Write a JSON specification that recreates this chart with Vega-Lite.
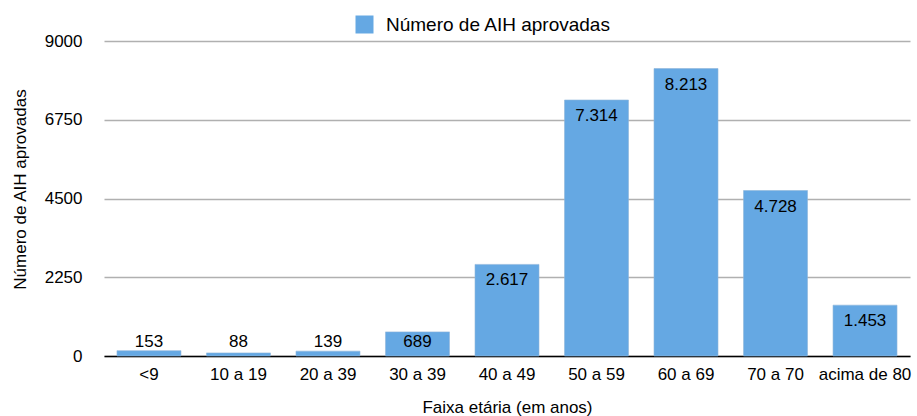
{
  "$schema": "https://vega.github.io/schema/vega-lite/v6.json",
  "autosize": "none",
  "width": 806,
  "height": 315,
  "padding": {"left": 104, "top": 41, "right": 7, "bottom": 60},
  "background": "white",
  "config": {
    "font": "Liberation Sans",
    "view": {"stroke": null},
    "locale": {"number": {"decimal": ",", "thousands": ".", "grouping": [3], "currency": ["R$", ""]}}
  },
  "data": {
    "values": [
      {"faixa": "<9", "valor": 153},
      {"faixa": "10 a 19", "valor": 88},
      {"faixa": "20 a 39", "valor": 139},
      {"faixa": "30 a 39", "valor": 689},
      {"faixa": "40 a 49", "valor": 2617},
      {"faixa": "50 a 59", "valor": 7314},
      {"faixa": "60 a 69", "valor": 8213},
      {"faixa": "70 a 70", "valor": 4728},
      {"faixa": "acima de 80", "valor": 1453}
    ]
  },
  "encoding": {
    "x": {
      "field": "faixa",
      "type": "nominal",
      "sort": null,
      "scale": {"paddingInner": 0.285, "paddingOuter": 0.145},
      "axis": {
        "title": "Faixa etária (em anos)",
        "labelAngle": 0,
        "labelFontSize": 17,
        "labelColor": "#000000",
        "labelPadding": 10,
        "ticks": false,
        "domainColor": "#000000",
        "domainWidth": 1.5,
        "titleFontSize": 17,
        "titleFontWeight": "normal",
        "titleColor": "#000000",
        "titleBaseline": "top",
        "titleY": 43
      }
    }
  },
  "layer": [
    {
      "mark": {"type": "bar", "stroke": "#8fb6da", "strokeWidth": 0.6},
      "encoding": {
        "y": {
          "field": "valor",
          "type": "quantitative",
          "scale": {"domain": [0, 9000], "nice": false},
          "axis": {
            "values": [0, 2250, 4500, 6750, 9000],
            "format": "d",
            "title": "Número de AIH aprovadas",
            "labelFontSize": 17,
            "labelColor": "#000000",
            "labelPadding": 22,
            "ticks": false,
            "domain": false,
            "gridColor": "#b0b0b0",
            "gridWidth": 1.5,
            "titleFontSize": 17,
            "titleFontWeight": "normal",
            "titleColor": "#000000",
            "titleAngle": -90,
            "titleX": -84,
            "titleY": 148,
            "titleAlign": "center",
            "titleBaseline": "middle"
          }
        },
        "color": {
          "datum": "Número de AIH aprovadas",
          "scale": {"range": ["#65a8e3"]},
          "legend": {
            "title": null,
            "orient": "none",
            "legendX": 251,
            "legendY": -26,
            "symbolType": "square",
            "symbolSize": 324,
            "symbolStrokeWidth": 0,
            "labelFontSize": 19,
            "labelColor": "#000000",
            "labelOffset": 12,
            "labelLimit": 500
          }
        }
      }
    },
    {
      "transform": [{"filter": "datum.valor >= 1000"}],
      "mark": {"type": "text", "baseline": "middle", "dy": 16, "fontSize": 17, "color": "#000000"},
      "encoding": {
        "y": {"field": "valor", "type": "quantitative"},
        "text": {"field": "valor", "type": "quantitative", "format": ","}
      }
    },
    {
      "transform": [{"filter": "datum.valor < 1000"}],
      "mark": {"type": "text", "baseline": "middle", "dy": -14.5, "fontSize": 17, "color": "#000000"},
      "encoding": {
        "y": {"datum": 0},
        "text": {"field": "valor", "type": "quantitative", "format": ","}
      }
    }
  ]
}
